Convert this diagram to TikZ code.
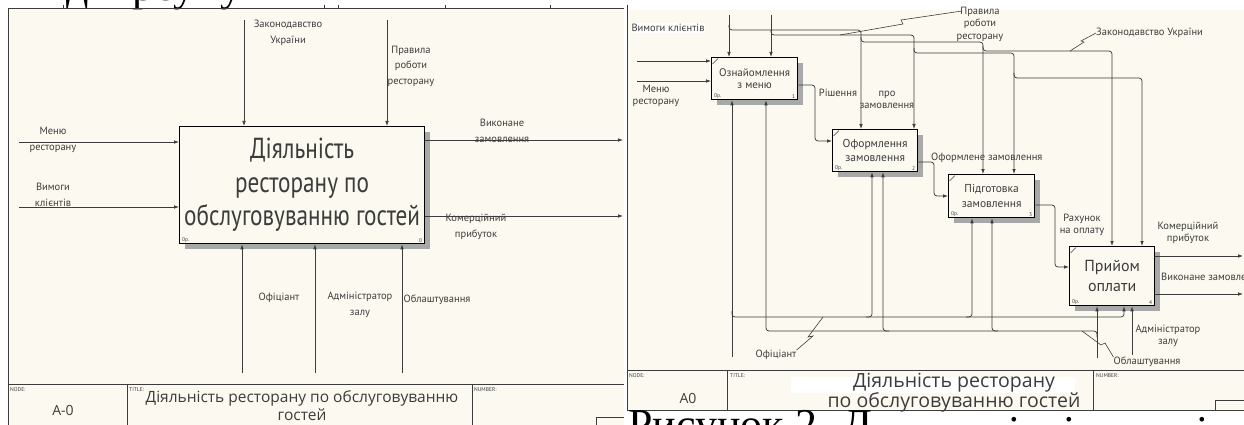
\documentclass[tikz,border=0pt]{standalone}
\usepackage{fontspec}
\setmainfont{PT Sans}
\newfontfamily\narrowfont[FakeStretch=0.8]{PT Sans}
\newfontfamily\titlefont{Open Sans}
\newfontfamily\capfont{Liberation Serif}
\usetikzlibrary{arrows.meta, positioning, shadows, calc}

\definecolor{paper}{HTML}{FCFAF0}
\definecolor{ink}{HTML}{3C3C3C}
\definecolor{shade}{HTML}{A8A8A8}

\tikzset{
  wire/.style={draw=ink, line width=0.75pt},
  flow/.style={wire, -{Latex[length=5pt,width=3.6pt]}},
  bus/.style={flow, rounded corners=3pt},
  leader/.style={wire, line width=0.6pt},
  actbox/.style={draw=black, line width=1.3pt, fill=paper, inner sep=0pt,
    align=center, text=ink, anchor=north west,
    drop shadow={shadow xshift=5pt, shadow yshift=-5pt, fill=shade, opacity=1}},
  lbl/.style={font=\fontsize{10.5}{12.5}\selectfont, text=ink, align=center, inner sep=0pt},
  lblwide/.style={lbl, font=\fontsize{10.5}{15.5}\selectfont},
  tag/.style={font=\fontsize{5.5}{6}\selectfont, text=ink, inner sep=0pt},
  cell/.style={font=\fontsize{5.5}{6}\selectfont, text=ink, inner sep=0pt, anchor=north west},
  capt/.style={font=\capfont\fontsize{44}{44}\selectfont, inner sep=0pt, anchor=base, text=black}
}

\begin{document}
\begin{tikzpicture}[x=1pt, y=-1pt]
  \useasboundingbox (0,0) rectangle (1244,425);
  \clip (0,0) rectangle (1244,425);

  % sheets
  \fill[white] (0,0) rectangle (1244,425);
  \fill[paper] (8,8) rectangle (624,425);
  \fill[paper] (627,10) rectangle (1244,410);

  % caption line above, cut by the page edge
  \node[capt] at (78,1) {д};
  \node[capt] at (164,1) {рсу};
  \node[capt] at (231,1) {у};

  % ---------------- A-0 ----------------
  \draw[wire] (8,425) -- (8,8) -- (624,8);
  \foreach \x in {63,324,338,445,550}
    \draw[wire, line width=0.5pt] (\x,8) -- (\x,5);

  \node[actbox, minimum width=245pt, minimum height=117pt,
        font=\narrowfont\fontsize{29}{33.5}\selectfont] (ctx) at (179,126)
        {Діяльність\\ресторану по\\обслуговуванню гостей};
  \node[tag, above right=1.5pt and 3pt of ctx.south west] {0р.};
  \node[tag, above left=1.5pt and 3pt of ctx.south east] {0};

  % controls
  \coordinate (lawA) at (244,20);
  \coordinate (rulesA) at (387,20);
  \draw[flow] (lawA) -- (lawA |- ctx.north);
  \draw[flow] (rulesA) -- (rulesA |- ctx.north);
  \node[lblwide] at (288,33) {Законодавство\\України};
  \node[lblwide] at (411,66) {Правила\\роботи\\ресторану};

  % inputs
  \coordinate (menuA) at (19,142);
  \coordinate (reqA) at (19,207);
  \draw[flow] (menuA) -- (menuA -| ctx.west);
  \draw[flow] (reqA) -- (reqA -| ctx.west);
  \node[lblwide] at (53,140) {Меню\\ресторану};
  \node[lblwide] at (53,195) {Вимоги\\клієнтів};

  % outputs
  \coordinate (doneA) at (623,140);
  \coordinate (profitA) at (623,216);
  \draw[flow] (doneA -| ctx.east) -- (doneA);
  \draw[flow] (profitA -| ctx.east) -- (profitA);
  \node[lblwide] at (502,131) {Виконане\\замовлення};
  \node[lblwide] at (476,227) {Комерційний\\прибуток};

  % mechanisms
  \coordinate (waiterA) at (242,373);
  \coordinate (adminA) at (315,373);
  \coordinate (equipA) at (402,373);
  \draw[flow] (waiterA) -- (waiterA |- ctx.south);
  \draw[flow] (adminA) -- (adminA |- ctx.south);
  \draw[flow] (equipA) -- (equipA |- ctx.south);
  \node[lbl] at (279,298) {Офіціант};
  \node[lblwide] at (360,305) {Адміністратор\\залу};
  \node[lbl] at (437,300) {Облаштування};

  % title block
  \draw[wire] (8,384) -- (624,384);
  \draw[wire] (127,384) -- (127,425);
  \draw[wire] (472,384) -- (472,425);
  \node[cell] at (10,387) {NODE:};
  \node[font=\titlefont\fontsize{14}{14}\selectfont, text=ink] at (63,410) {A-0};
  \node[cell] at (129,387) {TITLE:};
  \node[font=\titlefont\fontsize{15.5}{18}\selectfont, text=ink, align=center] at (302,406)
       {Діяльність ресторану по обслуговуванню\\гостей};
  \node[cell] at (474,387) {NUMBER:};
  \draw[wire] (596,425) |- (624,417);

  % ---------------- A0 ----------------
  \draw[wire] (627,5) -- (627,410);

  \node[actbox, minimum width=86pt, minimum height=42pt,
        font=\fontsize{11}{13}\selectfont] (menu) at (711,57) {Ознайомлення\\з меню};
  \node[actbox, minimum width=85pt, minimum height=42pt,
        font=\fontsize{11.5}{13.5}\selectfont] (order) at (832,129) {Оформлення\\замовлення};
  \node[actbox, minimum width=86pt, minimum height=43pt,
        font=\fontsize{11.5}{14.5}\selectfont] (prep) at (948,174) {Підготовка\\замовлення};
  \node[actbox, minimum width=85pt, minimum height=59pt,
        font=\fontsize{16}{20}\selectfont] (pay) at (1069,246) {Прийом\\оплати};

  \foreach \b/\n in {menu/1, order/2, prep/3, pay/4} {
    \draw[wire, line width=0.6pt] ($(\b.north west)+(1.5,7)$) -- ($(\b.north west)+(7,1.5)$);
    \node[tag, above right=1.5pt and 3pt of \b.south west] {0р.};
    \node[tag, above left=1.5pt and 3pt of \b.south east] {\n};
  }

  % entry points on the boxes
  \coordinate (order-c1) at ($(order.north west)+(29,0)$);
  \coordinate (order-c2) at ($(order.north west)+(82,0)$);
  \coordinate (prep-c1) at ($(prep.north west)+(35,0)$);
  \coordinate (prep-c2) at ($(prep.north west)+(66,0)$);
  \coordinate (pay-c1) at ($(pay.north west)+(43,0)$);
  \coordinate (pay-c2) at ($(pay.north west)+(73,0)$);
  \coordinate (menu-m1) at ($(menu.south west)+(21,0)$);
  \coordinate (menu-m2) at ($(menu.south west)+(55,0)$);
  \coordinate (order-m1) at ($(order.south west)+(40,0)$);
  \coordinate (order-m2) at ($(order.south west)+(51,0)$);
  \coordinate (prep-m1) at ($(prep.south west)+(24,0)$);
  \coordinate (prep-m2) at ($(prep.south west)+(44,0)$);
  \coordinate (pay-m1) at ($(pay.south west)+(28,0)$);
  \coordinate (pay-m2) at ($(pay.south west)+(55,0)$);
  \coordinate (pay-m3) at ($(pay.south west)+(63,0)$);

  % inputs
  \coordinate (reqB) at (637,61);
  \coordinate (menuB) at (637,81);
  \draw[flow] (reqB) -- (reqB -| menu.west);
  \draw[flow] (menuB) -- (menuB -| menu.west);
  \node[lbl, fill=white, inner sep=1pt] at (668,28) {Вимоги клієнтів};
  \node[lbl] at (656,96) {Меню\\ресторану};

  % controls
  \coordinate (lawB) at (729,15);
  \coordinate (rulesB) at (771,15);
  \draw[flow] (lawB) -- (lawB |- menu.north);
  \draw[flow] (rulesB) -- (rulesB |- menu.north);
  \draw[bus] (729,25) |- (861,30) -- (order-c1);
  \draw[bus] (861,37) |- (983,42) -- (prep-c1);
  \draw[bus] (983,46) |- (1112,51) -- (pay-c1);
  \draw[bus] (771,30) |- (914,35) -- (order-c2);
  \draw[bus] (914,48) |- (1014,53) -- (prep-c2);
  \draw[bus] (1014,73) |- (1142,78) -- (pay-c2);
  \node[lbl] (rulesB-lbl) at (980,24) {Правила\\роботи\\ресторану};
  \draw[leader] (840,35) -- (903,24) -- (901,20) -- (962,11);
  \node[lbl, anchor=west] (lawB-lbl) at (1096,33) {Законодавство України};
  \draw[leader] (1070,51) -- (1084,42) -- (1081,41) -- (lawB-lbl.west);

  % flows between activities
  \coordinate (menu-o) at ($(menu.north east)+(0,28)$);
  \coordinate (order-i) at ($(order.north west)+(0,12)$);
  \coordinate (order-o) at ($(order.north east)+(0,33)$);
  \coordinate (prep-i) at ($(prep.north west)+(0,22)$);
  \coordinate (prep-o) at ($(prep.north east)+(0,31)$);
  \coordinate (pay-i) at ($(pay.north west)+(0,21)$);
  \node[lbl] at (838,93) {Рішення};
  \node[lbl] at (887,100) {про\\замовлення};
  \node[lbl, anchor=west] at (931,158) {Оформлене замовлення};
  \node[lbl] at (1082,225) {Рахунок\\на оплату};
  \draw[bus] (menu-o) -| (815,120) |- (order-i);
  \draw[bus] (order-o) -| (934,180) |- (prep-i);
  \draw[bus] (prep-o) -| (1055,240) |- (pay-i);

  % outputs
  \coordinate (profitB) at (1243,256);
  \coordinate (doneB) at (1243,294);
  \draw[flow] (profitB -| pay.east) -- (profitB);
  \draw[flow] (doneB -| pay.east) -- (doneB);
  \node[lbl] at (1188,233) {Комерційний\\прибуток};
  \node[lbl, anchor=west] at (1161,277) {Виконане замовлення};

  % mechanisms
  \coordinate (waiterB) at (732,357);
  \coordinate (equipB) at (1097,358);
  \coordinate (adminB) at (1132,355);
  \draw[flow] (waiterB) -- (menu-m1);
  \draw[bus] (732,311) |- (1124,317) -- (pay-m2);
  \draw[bus] (866,317) -| (order-m1);
  \draw[bus] (966,317) -| (prep-m1);
  \draw[flow] (equipB) -- (pay-m1);
  \draw[bus] (1097,337) |- (766,331) -- (menu-m2);
  \draw[bus] (998,331) -| (prep-m2);
  \draw[bus] (889,331) -| (order-m2);
  \draw[flow] (adminB) -- (pay-m3);
  \node[lbl] (waiterB-lbl) at (776,355) {Офіціант};
  \draw[leader] (waiterB-lbl.north east) -- (813,336) -- (808,337) -- (823,317);
  \node[lbl] (equipB-lbl) at (1147,362) {Облаштування};
  \draw[leader] (equipB-lbl.north west) -- (1105,343) -- (1101,345) -- (1082,331);
  \node[lbl] at (1168,336) {Адміністратор\\залу};

  % title block
  \draw[wire] (627,370) -- (1244,370);
  \draw[wire] (627,410) -- (1244,410);
  \draw[wire] (727,370) -- (727,410);
  \draw[wire] (1093,370) -- (1093,410);
  \fill[white] (791,377) rectangle (1075,393);
  \node[cell] at (629,373) {NODE:};
  \node[font=\titlefont\fontsize{14}{14}\selectfont, text=ink] at (688,398) {A0};
  \node[cell] at (730,373) {TITLE:};
  \node[font=\titlefont\fontsize{19.5}{16}\selectfont, text=ink, align=center] at (954,392.5)
       {Діяльність ресторану\\по обслуговуванню гостей};
  \node[cell] at (1096,373) {NUMBER:};
  \draw[wire] (1215,410) |- (1244,400);

  % caption below, cut by the page edge
  \node[capt, anchor=base west] at (628,439) {Рисунок 2. Д};
  \foreach \x in {1015,1070,1203}
    \node[capt] at (\x,446) {і};
\end{tikzpicture}
\end{document}
